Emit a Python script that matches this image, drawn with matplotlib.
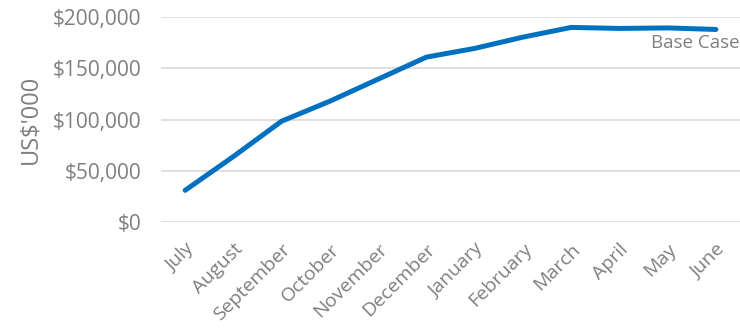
import matplotlib.pyplot as plt
from matplotlib.ticker import FuncFormatter
from matplotlib.transforms import ScaledTranslation

months = ["July", "August", "September", "October", "November", "December",
          "January", "February", "March", "April", "May", "June"]
base_case = [31000, 64000, 98500, 118000, 139500, 161000,
             169500, 180500, 190000, 189000, 189500, 188000]
y_ticks = [0, 50000, 100000, 150000, 200000]

grey = "#7f7f7f"
plt.rcParams["font.family"] = ["Open Sans", "DejaVu Sans"]

fig = plt.figure(figsize=(7.4, 3.3), dpi=100)
ax = fig.add_axes([0.2176, 0.327, 0.7824, 0.621])

x = list(range(len(months)))
ax.plot(x, base_case, color="#0070C0", linewidth=3.6, solid_capstyle="round")
ax.text(len(months) - 0.5, 184000, "Base Case", color=grey,
        fontsize=13.5, ha="right", va="top")

ax.set_xlim(-0.5, len(months) - 0.5)
ax.set_ylim(0, 200000)
ax.set_yticks(y_ticks)
ax.yaxis.set_major_formatter(FuncFormatter(lambda v, p: f"${v:,.0f}"))
ax.set_xticks(x)
ax.set_xticklabels(months, rotation=45, ha="right", va="top",
                   rotation_mode="anchor", fontsize=14, color=grey)
# nudge the slanted labels a bit left, like the original
shift = ScaledTranslation(-0.06, -0.02, fig.dpi_scale_trans)
for lbl in ax.get_xticklabels():
    lbl.set_transform(lbl.get_transform() + shift)
ax.tick_params(axis="y", labelsize=15, labelcolor=grey, length=0, pad=14)
ax.tick_params(axis="x", length=0, pad=13)
ax.grid(axis="y", color="#d9d9d9", linewidth=1.2)
ax.set_axisbelow(True)
for s in ax.spines.values():
    s.set_visible(False)
ax.set_ylabel("US$'000", color=grey, fontsize=17)
ax.yaxis.set_label_coords(-0.205, 0.5)

fig.savefig("out.png", dpi=100)
plt.close(fig)
